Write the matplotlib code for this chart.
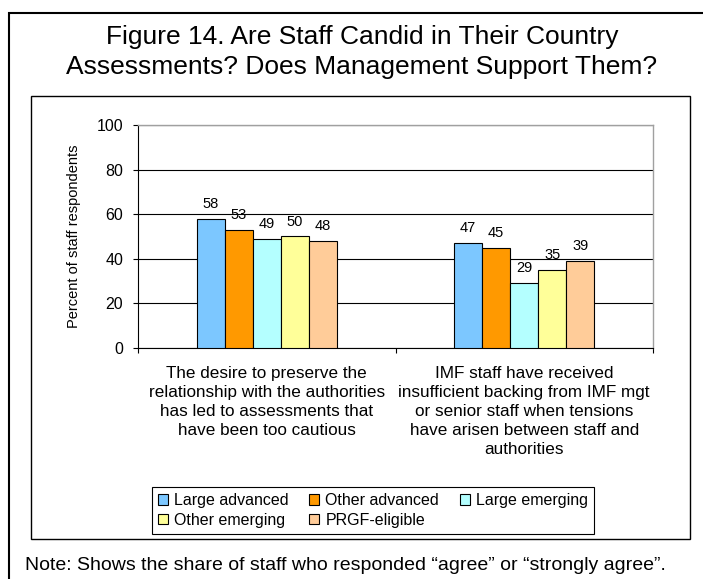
import matplotlib

matplotlib.use("Agg")

import matplotlib.pyplot as plt
import matplotlib.transforms as mtransforms
from matplotlib.patches import Patch, Rectangle

plt.rcParams["font.family"] = ["Liberation Sans", "DejaVu Sans"]

# 图表数据
title_lines = [
    "Figure 14. Are Staff Candid in Their Country",
    "Assessments? Does Management Support Them?",
]
question_lines = [
    ["The desire to preserve the", "relationship with the authorities",
     "has led to assessments that", "have been too cautious"],
    ["IMF staff have received", "insufficient backing from IMF mgt",
     "or senior staff when tensions", "have arisen between staff and",
     "authorities"],
]
group_names = ["Large advanced", "Other advanced", "Large emerging",
               "Other emerging", "PRGF-eligible"]
large_advanced = [58, 47]
other_advanced = [53, 45]
large_emerging = [49, 29]
other_emerging = [50, 35]
prgf_eligible = [48, 39]
y_ticks = [0, 20, 40, 60, 80, 100]
y_label = "Percent of staff respondents"
note_text = "Note: Shows the share of staff who responded \u201cagree\u201d or \u201cstrongly agree\u201d."

colors = ["#7CC7FF", "#FF9900", "#B4FFFF", "#FFFF99", "#FFCC99"]

W, H = 703, 579


def fx(px):
    return px / W


def fy(py):
    return 1 - py / H


fig = plt.figure(figsize=(W / 100, H / 100), dpi=100)

# 外框和图表框
fig.add_artist(Rectangle((fx(9), -0.1), 1.2, fy(13) + 0.1, transform=fig.transFigure,
                         fill=False, edgecolor="black", linewidth=1.5, clip_on=False))
fig.add_artist(Rectangle((fx(31), fy(539)), fx(690) - fx(31), fy(96) - fy(539),
                         transform=fig.transFigure, fill=False, edgecolor="black",
                         linewidth=1.0))

for i, line in enumerate(title_lines):
    fig.text(fx(362), fy(44 + 30 * i), line, ha="center", va="baseline", fontsize=19)

ax = fig.add_axes([fx(138), fy(348), fx(653) - fx(138), fy(125) - fy(348)])

series = [large_advanced, other_advanced, large_emerging, other_emerging, prgf_eligible]
n_cat = len(question_lines)
bar_w = 0.109
for k, vals in enumerate(series):
    xs = [c + (k - 2) * bar_w for c in range(n_cat)]
    ax.bar(xs, vals, width=bar_w, color=colors[k], edgecolor="black",
           linewidth=0.8, zorder=3, label=group_names[k])
    for x, v in zip(xs, vals):
        ax.annotate(f"{v}", (x, v), xytext=(0, 10.8), textcoords="offset points",
                    ha="center", va="center", fontsize=10.5)

ax.set_xlim(-0.5, n_cat - 0.5)
ax.set_ylim(0, 100)
ax.set_yticks(y_ticks)
ax.set_xticks([c - 0.5 for c in range(n_cat + 1)])
ax.set_xticklabels([])
ax.yaxis.grid(True, color="black", linewidth=0.8)
ax.set_axisbelow(True)
ax.tick_params(axis="y", direction="out", length=3.6, width=0.8, labelsize=11.5, pad=7)
ax.tick_params(axis="x", direction="out", length=3.6, width=0.8)
for side in ["left", "bottom"]:
    ax.spines[side].set_color("black")
    ax.spines[side].set_linewidth(0.8)
for side in ["top", "right"]:
    ax.spines[side].set_color("#A0A0A0")
    ax.spines[side].set_linewidth(1.0)

# 分类标签（逐行放置）
trans = mtransforms.blended_transform_factory(ax.transData, fig.transFigure)
for c, lines in enumerate(question_lines):
    for j, line in enumerate(lines):
        ax.text(c, fy(378 + 19 * j), line, transform=trans, ha="center",
                va="baseline", fontsize=12.3)

fig.text(fx(74), fy(236.5), y_label, rotation=90, ha="center", va="center", fontsize=10.5)

# 图例按行排列：调整顺序以适应 matplotlib 按列填充
handles = [Patch(facecolor=colors[k], edgecolor="black", linewidth=0.8) for k in range(5)]
order = [0, 3, 1, 4, 2]
leg = fig.legend([handles[k] for k in order], [group_names[k] for k in order],
                 ncol=3, loc="center", bbox_to_anchor=(fx(373), fy(510.5)),
                 frameon=True, fancybox=False, framealpha=1, edgecolor="black",
                 fontsize=11.5, handlelength=0.6, handleheight=0.6,
                 handletextpad=0.4, columnspacing=1.3, borderpad=0.4,
                 labelspacing=0.3, borderaxespad=0)
leg.get_frame().set_linewidth(0.8)

fig.text(fx(25), fy(570), note_text, ha="left", va="baseline", fontsize=14)

fig.savefig("out.png", dpi=100)
